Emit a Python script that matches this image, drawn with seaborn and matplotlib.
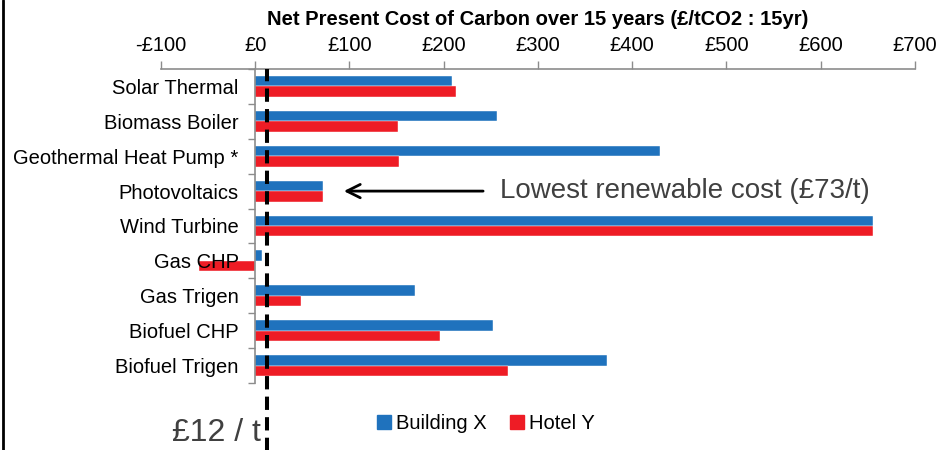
import pandas as pd
import matplotlib
matplotlib.use('Agg')
import matplotlib.pyplot as plt
import matplotlib.ticker as mticker
from matplotlib.lines import Line2D
import seaborn as sns

# Datos
tecnologias = ['Solar Thermal', 'Biomass Boiler', 'Geothermal Heat Pump *', 'Photovoltaics',
               'Wind Turbine', 'Gas CHP', 'Gas Trigen', 'Biofuel CHP', 'Biofuel Trigen']
building_x = [209, 256, 429, 72, 655, 7, 170, 252, 373]
hotel_y = [213, 151, 153, 72, 655, -60, 49, 196, 268]
series = ['Building X', 'Hotel Y']
coste_referencia = 12
coste_minimo = 73

azul = '#1F72BD'
rojo = '#EE1C25'
gris = '#404040'

df = pd.DataFrame({
    'tecnologia': tecnologias * 2,
    'coste': building_x + hotel_y,
    'serie': [series[0]] * len(tecnologias) + [series[1]] * len(tecnologias),
})

sns.set_style('white')
plt.rcParams['font.family'] = ['Liberation Sans', 'DejaVu Sans']
plt.rcParams['text.color'] = 'black'
plt.rcParams['xtick.color'] = 'black'
plt.rcParams['ytick.color'] = 'black'

fig = plt.figure(figsize=(9.43, 4.5), dpi=100)
ax = fig.add_axes([0.1707, 0.1489, 0.7996, 0.6978])

sns.barplot(data=df, y='tecnologia', x='coste', hue='serie', orient='h',
            palette=[azul, rojo], saturation=1, width=0.6, ax=ax, legend=False,
            edgecolor='white', linewidth=0.3)
ax.set_axisbelow(False)

ax.set_xlim(-100, 700)
ax.set_ylim(len(tecnologias) - 0.5, -0.5)
ax.set_xlabel('')
ax.set_ylabel('')

# Eje X arriba
ax.xaxis.tick_top()
ax.xaxis.set_label_position('top')
ax.xaxis.set_major_locator(mticker.MultipleLocator(100))
ax.xaxis.set_major_formatter(mticker.FuncFormatter(
    lambda v, p: f'-£{abs(v):.0f}' if v < 0 else f'£{v:.0f}'))
ax.tick_params(axis='x', which='major', top=True, direction='out', length=6,
               width=1, color='#8c8c8c', labelcolor='black', labelsize=14.5, pad=4)

# Eje Y en cero, estilo Excel
ax.spines['left'].set_position(('data', 0))
ax.yaxis.set_minor_locator(mticker.FixedLocator([i - 0.5 for i in range(len(tecnologias) + 1)]))
ax.tick_params(axis='y', which='major', length=0, labelsize=14.5, labelcolor='black', pad=12)
ax.tick_params(axis='y', which='minor', left=True, direction='out', length=5,
               width=1, color='#8c8c8c')
for s in ['right', 'bottom']:
    ax.spines[s].set_visible(False)
for s in ['top', 'left']:
    ax.spines[s].set_color('#8c8c8c')
    ax.spines[s].set_linewidth(1.2)

ax.set_title('Net Present Cost of Carbon over 15 years (£/tCO2 : 15yr)',
             fontsize=14.5, fontweight='bold', color='black', pad=32)

# Linea de referencia
ax.axvline(coste_referencia, ymin=-0.22, ymax=1, color='black', lw=2.9,
           linestyle=(0, (3.3, 1.8)), clip_on=False, zorder=5)
ax.text(coste_referencia - 6, -0.16, f'£{coste_referencia} / t',
        transform=ax.get_xaxis_transform(), ha='right', va='center',
        fontsize=23, color=gris, clip_on=False)

# Anotacion
ax.annotate(f'Lowest renewable cost (£{coste_minimo}/t)',
            xy=(94, 3), xytext=(260, 3), va='center', ha='left',
            fontsize=20, color=gris, annotation_clip=False,
            arrowprops=dict(arrowstyle='->', color='black', lw=2,
                            mutation_scale=24, shrinkA=10, shrinkB=0))

handles = [Line2D([0], [0], marker='s', linestyle='', color=c, markersize=10)
           for c in [azul, rojo]]
ax.legend(handles, series, loc='center', bbox_to_anchor=(0.43, -0.13), ncol=2,
          frameon=False, fontsize=14.5, handlelength=0.8, handletextpad=0.2,
          columnspacing=1.1, labelcolor='black')

fig.add_artist(Line2D([0.0035, 0.0035], [0, 1], color='black', lw=2,
                      transform=fig.transFigure))

fig.savefig('out.png', dpi=100)
